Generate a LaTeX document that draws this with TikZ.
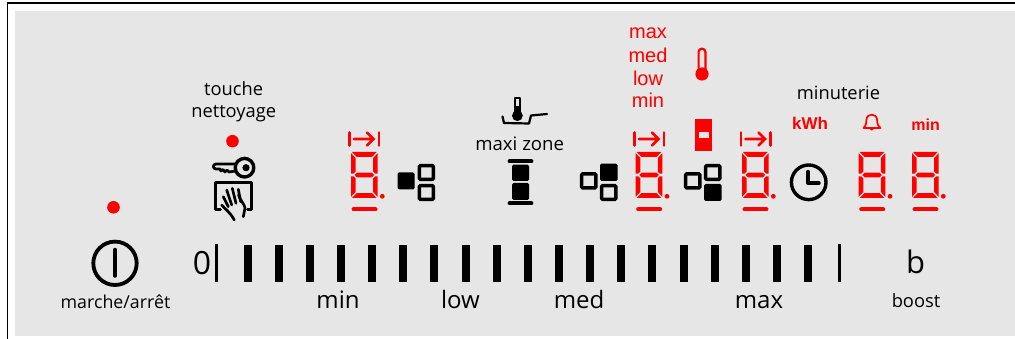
\documentclass[tikz,border=0pt]{standalone}
\usepackage{fontspec}
\setmainfont{Open Sans}
\newfontfamily\redfont{Liberation Sans}
\definecolor{panel}{HTML}{E6E6E6}
\definecolor{ledred}{HTML}{FF0000}
\tikzset{
  blk/.style={font=\fontsize{#1}{#1}\selectfont,text=black,inner sep=0pt,anchor=base},
  rdt/.style={font=\redfont\fontsize{#1}{#1}\selectfont,text=ledred,inner sep=0pt,anchor=base},
  rdb/.style={font=\redfont\bfseries\fontsize{#1}{#1}\selectfont,text=ledred,inner sep=0pt,anchor=base},
  tick/.style={draw=black,line width=3pt},
  iconline/.style={draw=black,line width=3.2pt,line join=round,line cap=round},
  redline/.style={draw=ledred,line cap=round},
  hollowsq/.style={draw=black,line width=3.5pt,rounded corners=1pt},
  handline/.style={draw=black,line width=2.7pt,line cap=round,line join=round},
}
% seven-segment digit, top-left at (#1,#2)
\newcommand{\digitseg}[2]{%
 \begin{scope}[shift={(#1,#2)}]
  \fill[ledred] (1,0)--(25.7,0)--(21,4.8)--(5.7,4.8)--cycle;
  \fill[ledred] (0,1.2)--(4.6,6)--(4.6,19.6)--(2.6,21.6)--(0,21.6)--cycle;
  \fill[ledred] (26.7,1.2)--(22.1,6)--(22.1,19.6)--(24.1,21.6)--(26.7,21.6)--cycle;
  \fill[ledred] (3.6,23)--(6,20.6)--(20.7,20.6)--(23.1,23)--(20.7,25.4)--(6,25.4)--cycle;
  \fill[ledred] (0,24.4)--(2.6,24.4)--(4.6,26.4)--(4.6,40)--(0,44.8)--cycle;
  \fill[ledred] (26.7,24.4)--(24.1,24.4)--(22.1,26.4)--(22.1,40)--(26.7,44.8)--cycle;
  \fill[ledred] (1,46)--(25.7,46)--(21,41.2)--(5.7,41.2)--cycle;
  \draw[redline,line width=4pt] (2.5,57.5)--(24.5,57.5);
  \fill[ledred] (31.3,44.3) circle (2.4);
 \end{scope}}
% limit arrow above a digit, left bar at x=#1
\newcommand{\limitarrow}[1]{%
 \begin{scope}[shift={(#1,0)}]
  \draw[redline,line width=2.8pt] (0,132.5)--(0,145.5) (29.4,132.5)--(29.4,145.5);
  \draw[redline,line width=2.6pt] (4.5,139)--(24,139) (17.5,132.5)--(24,139)--(17.5,145.5);
 \end{scope}}
\begin{document}
\begin{tikzpicture}[x=1pt,y=-1pt]
\useasboundingbox (0,0) rectangle (1015,339);
\fill[white] (0,0) rectangle (1015,339);
\draw[black,line width=1.6pt] (7.5,339)--(7.5,3.2)--(1015,3.2);
\fill[panel] (15,11) rectangle (1015,336);

% dots
\fill[ledred] (113.5,207.3) circle (6.3);
\fill[ledred] (232.5,141.2) circle (6.3);

% texts
\node[blk=18.3] (touche) at (233.7,95.5) {touche};
\node[blk=18.3] (nettoyage) at (233.7,117.8) {nettoyage};
\node[blk=17.8] (marche) at (115.5,308.3) {marche/arrêt};
\node[blk=32] (zero) at (202,275) {0};
\node[blk=24] (tmin) at (338,308.3) {min};
\node[blk=24] (tlow) at (460.5,308.3) {low};
\node[blk=24] (tmed) at (579,308.3) {med};
\node[blk=24] (tmax) at (759,308.3) {max};
\node[blk=31] (tb) at (915.5,273.3) {b};
\node[blk=18.3] (boost) at (916,307.5) {boost};
\node[blk=18.6] (maxi) at (519.7,150.7) {maxi zone};
\node[blk=18.3] (minuterie) at (838.5,100) {minuterie};
\node[rdt=20] (rmax) at (648,38.8) {max};
\node[rdt=20] (rmed) at (648,63) {med};
\node[rdt=20] (rlow) at (648,85.8) {low};
\node[rdt=20] (rmin) at (648,108) {min};
\node[rdb=17] (kwh) at (810,129.3) {kWh};
\node[rdb=16] (umin) at (925.7,130.7) {min};

% power icon
\draw[iconline,line width=3.8pt] (115,263.3) circle (21.7);
\draw[iconline,line width=4.6pt] (115,250)--(115,275.5);

% key
\draw[iconline,line width=3.4pt] (244.5,167.7) circle (9.3);
\fill[black] (246,167.7) circle (3.6);
\draw[handline] (235.5,164)--(216,164) .. controls (212.5,164) and (212.5,169) .. (216,169)
   --(220,169)--(221,171)--(223,169.5)--(225,172)--(227,170)--(229,172)--(232,171.5)--(235.5,171);

% hand panel
\draw[handline] (220.5,209.5)--(215.4,209.5)--(215.4,182.7)--(251.8,182.7)--(251.8,209.5)--(247.5,209.5);
\draw[handline] (223.3,196.7)--(228.3,206.7);
\draw[handline] (226.7,190)--(231.7,205);
\draw[handline] (232.3,188.3)--(236,203.3);
\draw[handline] (238.3,189.3)--(240.7,201.7);
\draw[handline] (238.5,195) .. controls (240,200) and (245,205) .. (245,208) -- (243.3,216.7);
\draw[handline] (221.7,205) .. controls (225,209) and (230,212) .. (234.3,220);

% bars
\foreach \i in {0,...,18}{
  \pgfmathsetmacro{\bx}{247.7+31.13*\i}
  \fill[black] (\bx-4,245.3) rectangle (\bx+4,281.6);
}
\draw[tick] (216.8,244.3)--(216.8,282.3);
\draw[tick] (839,244.3)--(839,282.3);

% digits
\digitseg{351}{152}
\digitseg{635.7}{152}
\digitseg{742}{152}
\digitseg{858.7}{152}
\digitseg{912}{152}
\limitarrow{349.5}
\limitarrow{634.5}
\limitarrow{741}

% zone icons
\fill[black,rounded corners=1.5pt] (397.5,172.3) rectangle (414.5,189.5);
\draw[hollowsq] (419.4,165.7) rectangle (433.3,179.3);
\draw[hollowsq] (419.4,185.7) rectangle (433.3,199.3);

\draw[hollowsq] (581.7,174) rectangle (595.8,187.8);
\fill[black,rounded corners=1.5pt] (600,163.7) rectangle (617.5,181);
\draw[hollowsq] (601.7,185.7) rectangle (615.8,199.3);

\draw[hollowsq] (685.7,174) rectangle (699.8,187.8);
\draw[hollowsq] (705.7,165.7) rectangle (719.8,179.3);
\fill[black,rounded corners=1.5pt] (704,184) rectangle (721.5,201);

% maxi zone column
\draw[iconline,line width=3.8pt] (509.5,161.4)--(531.5,161.4);
\draw[iconline,line width=3.8pt] (509.5,203.2)--(531.5,203.2);
\fill[black,rounded corners=1.5pt] (512,164.7) rectangle (529,181);
\fill[black,rounded corners=1.5pt] (512,183) rectangle (529,200);

% pan icon
\draw[draw=black,line width=1.9pt,line join=round] (514.8,112)--(514.8,98)--(520,98)--(520,112);
\fill[black] (517.4,115.7) circle (5.4);
\fill[black] (516.2,106) rectangle (518.6,112);
\draw[handline,line width=2.2pt] (502.5,116.5)--(504,123)--(529,123.5)--(531,115.5)--(547,114);

% red thermometer
\draw[draw=ledred,line width=2.2pt,line join=round] (698.6,70)--(698.6,52)
   arc[start angle=180,end angle=360,radius=3.4]--(705.4,70);
\fill[ledred] (702,74) circle (6.6);

% red block
\fill[ledred] (695.3,118.7) rectangle (711.7,151);
\fill[panel] (698.7,132.4) rectangle (708.5,137.6);

% clock
\draw[iconline,line width=3.4pt] (808.7,182.3) circle (17.3);
\draw[draw=black,line width=3.4pt,line cap=round,line join=round] (808,171.5)--(808,183)--(819,183);

% bell
\draw[draw=ledred,line width=1.7pt,line join=round,line cap=round]
  (863.5,128) .. controls (867,125) and (866,121) .. (866.5,119.5)
  .. controls (867,113) and (876.5,113) .. (877,119.5)
  .. controls (877.5,121) and (876.5,125) .. (880.5,128) -- cycle;
\fill[ledred] (869.8,128.5) arc[start angle=180,end angle=0,radius=2] -- cycle;
\end{tikzpicture}
\end{document}
